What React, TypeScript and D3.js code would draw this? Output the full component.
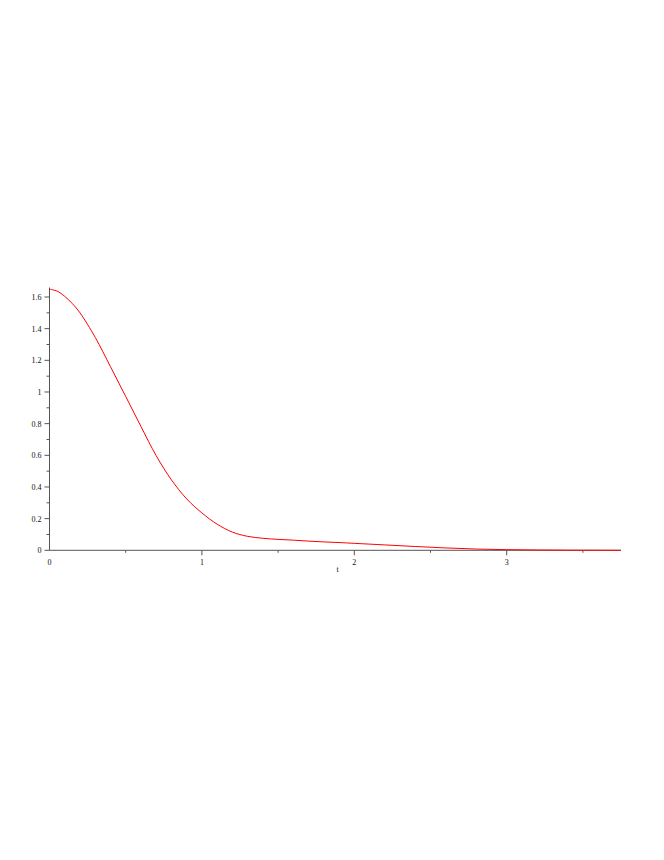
import React, { useEffect, useRef } from "react";
import * as d3 from "d3";

// curve samples (t, value)
const tValues = [0, 0.05, 0.1, 0.15, 0.2, 0.3, 0.4, 0.5, 0.6, 0.7, 0.8, 0.9, 1.0, 1.1, 1.2, 1.3, 1.4, 1.5, 1.6, 1.7, 1.8, 1.9, 2.0, 2.2, 2.4, 2.6, 2.8, 3.0, 3.2, 3.4, 3.6, 3.75];
const yValues = [1.649, 1.637, 1.604, 1.558, 1.5, 1.345, 1.16, 0.972, 0.782, 0.598, 0.445, 0.325, 0.236, 0.165, 0.115, 0.088, 0.076, 0.069, 0.064, 0.058, 0.053, 0.049, 0.044, 0.034, 0.024, 0.015, 0.008, 0.004, 0.002, 0.001, 0.0005, 0.0002];

const xMajorTicks = [0, 1, 2, 3];
const xMinorTicks = [0.5, 1.5, 2.5, 3.5];
const yMajorTicks = [0, 0.2, 0.4, 0.6, 0.8, 1, 1.2, 1.4, 1.6];
const yMinorTicks = [0.1, 0.3, 0.5, 0.7, 0.9, 1.1, 1.3, 1.5];
const xLabel = "t";

const App = () => {
  const ref = useRef<SVGSVGElement>(null);

  useEffect(() => {
    const svg = d3.select(ref.current);
    svg.selectAll("*").remove();

    const x = d3.scaleLinear().domain([0, 3.75]).range([49.5, 621]);
    const y = d3.scaleLinear().domain([0, 1.6]).range([550.3, 297]);
    const axisColor = "#555";
    const textColor = "#111";
    const font = "'Liberation Serif', 'DejaVu Serif', serif";

    const g = svg.append("g");

    // x axis line
    g.append("line")
      .attr("x1", x(0)).attr("x2", x(3.75))
      .attr("y1", y(0)).attr("y2", y(0))
      .attr("stroke", axisColor).attr("stroke-width", 1);

    // y axis line
    g.append("line")
      .attr("x1", x(0)).attr("x2", x(0))
      .attr("y1", y(0)).attr("y2", y(1.66))
      .attr("stroke", axisColor).attr("stroke-width", 1);

    // x ticks
    g.selectAll("line.xmaj")
      .data(xMajorTicks.filter((d) => d > 0))
      .join("line")
      .attr("class", "xmaj")
      .attr("x1", (d) => x(d)).attr("x2", (d) => x(d))
      .attr("y1", y(0)).attr("y2", y(0) + 5)
      .attr("stroke", axisColor);
    g.selectAll("line.xmin")
      .data(xMinorTicks)
      .join("line")
      .attr("class", "xmin")
      .attr("x1", (d) => x(d)).attr("x2", (d) => x(d))
      .attr("y1", y(0)).attr("y2", y(0) + 2.5)
      .attr("stroke", axisColor);
    g.selectAll("text.xlab")
      .data(xMajorTicks)
      .join("text")
      .attr("class", "xlab")
      .attr("x", (d) => x(d))
      .attr("y", y(0) + 14.5)
      .attr("text-anchor", "middle")
      .attr("font-family", font)
      .attr("font-size", "8px")
      .attr("fill", textColor)
      .text((d) => d3.format("")(d));

    // y ticks
    g.selectAll("line.ymaj")
      .data(yMajorTicks)
      .join("line")
      .attr("class", "ymaj")
      .attr("x1", x(0) - 5).attr("x2", x(0))
      .attr("y1", (d) => y(d)).attr("y2", (d) => y(d))
      .attr("stroke", axisColor);
    g.selectAll("line.ymin")
      .data(yMinorTicks)
      .join("line")
      .attr("class", "ymin")
      .attr("x1", x(0) - 3).attr("x2", x(0))
      .attr("y1", (d) => y(d)).attr("y2", (d) => y(d))
      .attr("stroke", axisColor);
    g.selectAll("text.ylab")
      .data(yMajorTicks)
      .join("text")
      .attr("class", "ylab")
      .attr("x", x(0) - 8)
      .attr("y", (d) => y(d) + 3)
      .attr("text-anchor", "end")
      .attr("font-family", font)
      .attr("font-size", "8px")
      .attr("fill", textColor)
      .text((d) => d3.format("")(d));

    // axis label
    g.append("text")
      .attr("x", x(1.89))
      .attr("y", y(0) + 22)
      .attr("text-anchor", "middle")
      .attr("font-family", font)
      .attr("font-size", "8px")
      .attr("fill", textColor)
      .text(xLabel);

    // curve
    const points = tValues.map((t, i) => [t, yValues[i]] as [number, number]);
    const line = d3
      .line<[number, number]>()
      .x((d) => x(d[0]))
      .y((d) => y(d[1]))
      .curve(d3.curveCatmullRom.alpha(0.5));
    g.append("path")
      .datum(points)
      .attr("d", line)
      .attr("fill", "none")
      .attr("stroke", "#ff0000")
      .attr("stroke-width", 1);
  }, []);

  return (
    <svg
      ref={ref}
      width={664}
      height={860}
      style={{ position: "absolute", left: 0, top: 0, background: "#fff" }}
    />
  );
};

export default App;
